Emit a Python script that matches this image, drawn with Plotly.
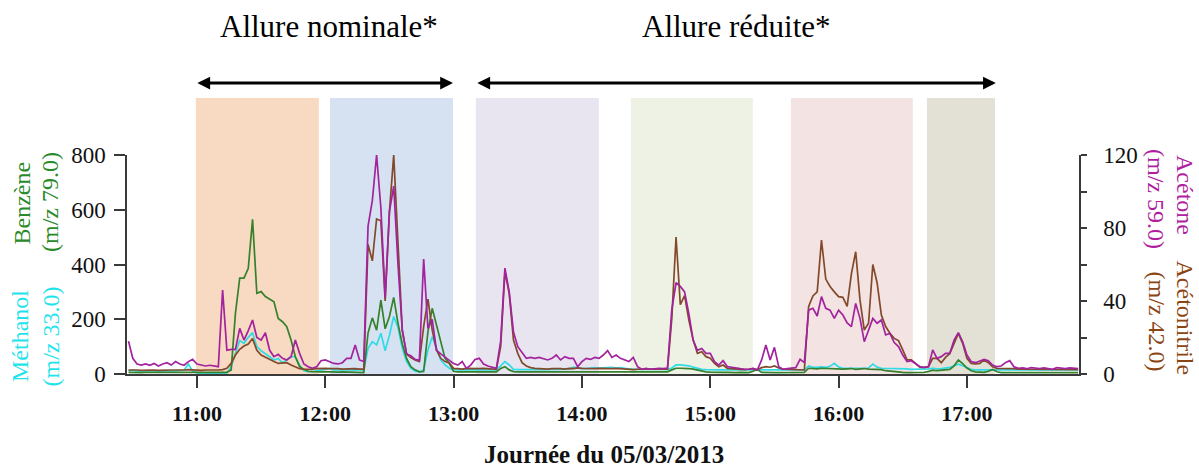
# Série temporelle COV (PTR-MS) du 05/03/2013, allure nominale / réduite.

import pandas as pd
import plotly.graph_objects as go

DAY = "2013-03-05"
START = f"{DAY} 10:28"
STEP = "2min"

# Acétone (m/z 59.0), axe de droite
acetone = [
    18, 8.6, 5.5, 4.9, 5.5, 4.8, 5.8, 4.4, 5.5, 6.2,
    4.9, 6.8, 5.5, 4.8, 6.8, 8.0, 5.5, 4.9, 4.4, 4.8,
    4.4, 4.0, 46, 13, 13.5, 13.5, 25, 18.6, 23.8, 29.6,
    20, 18.6, 22.6, 13, 9.5, 10.8, 8.6, 7.7, 9.5, 18.6,
    11.3, 5.5, 4.0, 3.1, 4.0, 7.3, 7.7, 6.8, 5.8, 5.5,
    6.2, 8.6, 8.6, 15.9, 7.7, 6.8, 81, 95, 120, 91,
    42, 89, 103, 60, 24, 11, 10, 8, 7.5, 63,
    25, 30, 13, 11, 9, 7.5, 5.8, 4.9, 6.8, 3.1,
    4.9, 8, 8.6, 5.5, 4.4, 3.7, 3.1, 18, 58, 45,
    23, 15, 11.7, 8.6, 9.1, 8.6, 9.1, 8.6, 7.7, 8.6,
    10.4, 7.7, 9.5, 8.6, 8.6, 4, 6.8, 8.6, 8, 9.1,
    8.6, 10.4, 12.8, 9.1, 10.4, 8.6, 7.7, 6.8, 9.1, 4,
    2.6, 3.1, 2.6, 2.9, 3.1, 2.9, 3.3, 35, 50, 48,
    45, 33, 18.6, 13, 14, 11.3, 11.3, 6.8, 4.9, 7.3,
    4, 3.7, 3.1, 2.9, 2.6, 2.6, 3.1, 2.2, 7.7, 15.9,
    7.7, 14.6, 4, 2.6, 2.9, 3.1, 3.5, 8, 6.2, 35,
    36, 31.8, 42.4, 36, 35, 30.5, 35, 32.3, 28, 26,
    38.7, 30.5, 17.7, 24, 30.5, 27.8, 29.6, 21.4, 22.3, 17.2,
    15, 10.4, 6.8, 7.3, 5.5, 4, 3.7, 4, 13.2, 8.6,
    9.5, 11.3, 11.3, 18.6, 22.7, 17.7, 10.4, 6.8, 6.2, 7.3,
    8, 7.3, 4.9, 4, 4.4, 6.2, 7.3, 4, 3.1, 3.3,
    2.9, 3.5, 3.1, 2.9, 3.3, 3.1, 2.6, 3.5, 3.1, 2.9,
    3.3, 3.1, 2.9,
]

# Acétonitrile (m/z 42.0), axe de droite
acetonitrile = [
    2.2, 2.4, 2.2, 2.0, 2.2, 2.4, 2.2, 2.0, 2.2, 2.4,
    2.2, 2.2, 2.0, 2.2, 2.4, 2.2, 2.2, 2.0, 2.2, 2.4,
    2.2, 2.2, 2.4, 3.1, 5.8, 10.4, 13.5, 15.3, 16.4, 19.4,
    13, 10.4, 9.1, 7.7, 6.8, 5.8, 6.2, 6.2, 4.9, 4.0,
    2.9, 2.6, 2.4, 2.6, 2.9, 3.1, 3.1, 2.9, 3.1, 2.9,
    2.7, 2.9, 3.1, 2.9, 2.7, 2.7, 71, 62, 85, 84,
    40, 89, 120, 75, 24, 11, 9, 7.7, 6.8, 26,
    41, 24, 13.2, 8.6, 6.8, 6, 3.1, 2.9, 2.7, 3.1,
    2.9, 2.7, 2.9, 3.1, 2.9, 2.7, 2.6, 15, 56, 44,
    18.6, 11.3, 6.2, 4.4, 3.5, 3.1, 2.9, 3.1, 2.7, 2.9,
    3.1, 2.9, 2.7, 3.1, 2.9, 3.3, 3.1, 2.9, 2.7, 2.9,
    3.1, 2.9, 2.7, 2.9, 3.1, 2.9, 2.7, 2.6, 2.4, 2.6,
    2.4, 2.6, 2.7, 2.6, 2.4, 2.6, 2.7, 30, 75, 38,
    43, 29.6, 18.6, 11.3, 12.2, 9.5, 8.6, 5.8, 4, 4.9,
    3.1, 2.9, 2.7, 2.6, 2.4, 2.6, 2.9, 2.4, 3.5, 4.0,
    3.7, 4.4, 3.3, 2.7, 2.6, 2.7, 2.6, 2.6, 2.2, 37,
    42.8, 45, 73.4, 52, 48, 45, 42.4, 42, 37, 55,
    67, 40.6, 24.1, 27.8, 60, 50, 32.3, 26, 22.3, 19.5,
    18.3, 13.2, 7.7, 7.7, 5.8, 3.7, 3.5, 4, 8.6, 8.6,
    6.2, 9.1, 11.3, 16.8, 22.3, 16.8, 8.6, 5.8, 5.5, 5.8,
    7.7, 6.2, 4, 3.1, 3.1, 3.1, 3.1, 2.9, 2.6, 2.6,
    2.4, 2.6, 2.4, 2.6, 2.4, 2.2, 2.4, 2.6, 2.4, 2.2,
    2.4, 2.6, 2.4,
]

# Benzène (m/z 79.0), axe de gauche
benzene = [
    6, 5, 6, 5, 6, 6, 5, 6, 5, 6,
    6, 5, 6, 5, 5, 6, 5, 5, 6, 5,
    5, 5, 6, 6, 15, 222, 350, 350, 386, 565,
    295, 301, 283, 273, 264, 203, 191, 173, 124, 63,
    27, 17, 10, 9, 8, 8, 9, 8, 8, 7,
    8, 7, 6, 5, 5, 5, 150, 205, 160, 270,
    165, 210, 280, 185, 110, 57, 27, 15, 8, 9,
    155, 240, 179, 112, 57, 39, 9, 8, 8, 9,
    8, 8, 9, 8, 8, 7, 8, 20, 27, 15,
    9, 8, 8, 8, 9, 8, 8, 8, 9, 8,
    8, 8, 8, 9, 8, 8, 8, 8, 9, 8,
    8, 8, 8, 8, 9, 8, 8, 7, 7, 8,
    7, 7, 8, 7, 7, 7, 8, 15, 21, 21,
    21, 20, 18, 14, 10, 8, 7, 6, 6, 6,
    6, 5, 5, 6, 5, 5, 10, 17, 6, 5,
    5, 5, 5, 5, 5, 5, 5, 5, 6, 21,
    20, 19, 21, 20, 20, 19, 17, 18, 19, 20,
    17, 18, 20, 18, 17, 18, 16, 12, 10, 9,
    7, 6, 5, 5, 5, 5, 6, 9, 14, 12,
    14, 15, 17, 30, 51, 38, 22, 12, 8, 7,
    6, 10, 17, 8, 5, 5, 5, 5, 5, 5,
    5, 5, 5, 5, 5, 5, 5, 5, 5, 5,
    5, 5, 5,
]

# Méthanol (m/z 33.0), axe de gauche
methanol = [
    12, 14, 10, 11, 10, 12, 11, 10, 12, 11,
    10, 11, 13, 14, 36, 10, 4, 3, 3, 3,
    3, 3, 3, 4, 27, 75, 122, 112, 134, 151,
    100, 85, 75, 63, 51, 57, 41, 51, 63, 63,
    33, 12, 8.5, 8.5, 11, 15, 18, 20, 15, 14,
    15, 16, 15, 14, 16, 13, 94, 118, 106, 149,
    85, 142, 210, 170, 94, 45, 21, 10, 8, 15,
    88, 136, 94, 51, 33, 21, 15, 15, 15, 14,
    14, 15, 15, 15, 14, 15, 15, 30, 45, 33,
    17, 16, 15, 16, 16, 17, 16, 16, 16, 17,
    16, 16, 17, 18, 25, 22, 20, 20, 22, 23,
    22, 23, 22, 24, 22, 23, 21, 18, 17, 17,
    16, 17, 17, 16, 17, 17, 16, 22, 33, 33,
    31, 30, 25, 20, 17, 16, 15, 15, 15, 15,
    15, 15, 15, 15, 15, 17, 16, 15, 15, 15,
    15, 15, 15, 15, 15, 15, 15, 15, 15, 29,
    24, 24, 26, 24, 28, 39, 26, 21, 21, 22,
    20, 22, 21, 22, 36, 25, 21, 21, 20, 21,
    21, 20, 19, 17, 17, 17, 17, 19, 21, 19,
    20, 22, 24, 30, 36, 30, 22, 17, 15, 15,
    15, 16, 15, 15, 15, 14, 15, 15, 15, 14,
    15, 15, 15, 15, 14, 15, 15, 15, 14, 15,
    15, 15, 15,
]

# Périodes de prélèvement (bandes colorées)
period_start = ["10:59:30", "12:02:12", "13:10:24", "14:22:54", "15:37:42", "16:41:18"]
period_end = ["11:57:00", "12:59:42", "14:07:54", "15:19:54", "16:34:42", "17:13:06"]
period_colors = ["#F8D9C2", "#D6E2F2", "#E8E5F1", "#EEF2E5", "#F3E3E3", "#E3E1D5"]

# Allures du four
phase_labels = ["Allure nominale*", "Allure réduite*"]
phase_start = ["10:59:30", "13:10:24"]
phase_end = ["12:59:42", "17:13:30"]

hour_ticks = ["11:00", "12:00", "13:00", "14:00", "15:00", "16:00", "17:00"]
left_ticks = [0, 200, 400, 600, 800]
right_ticks = [0, 20, 40, 60, 80, 100, 120]
right_ticktext = ["0", "", "40", "", "80", "", "120"]

COL_ACETONE = "#A3229E"
COL_ACETONITRILE = "#83492A"
COL_BENZENE = "#37802C"
COL_METHANOL = "#2FDCE6"
AXIS_COL = "#3a3a3a"
SERIF = "Liberation Serif"

W, H = 1199, 468
PL, PR, PT, PB = 127, 1079, 155, 374


def px_x(px):
    return (px - PL) / (PR - PL)


def px_y(py):
    return (PB - py) / (PB - PT)


def ts(hm):
    return f"{DAY} {hm}"


times = pd.date_range(START, periods=len(acetone), freq=STEP)

fig = go.Figure()

for name, vals, col, axis in [
    ("Méthanol", methanol, COL_METHANOL, "y"),
    ("Benzène", benzene, COL_BENZENE, "y"),
    ("Acétonitrile", acetonitrile, COL_ACETONITRILE, "y2"),
    ("Acétone", acetone, COL_ACETONE, "y2"),
]:
    fig.add_trace(go.Scatter(
        x=times, y=vals, mode="lines", name=name, yaxis=axis,
        line=dict(color=col, width=1.7),
    ))

for x0, x1, col in zip(period_start, period_end, period_colors):
    fig.add_vrect(x0=ts(x0), x1=ts(x1), y0=0, y1=px_y(98),
                  fillcolor=col, line_width=0, layer="below")

# flèches doubles + libellés des allures
label_px = [328.5, 736]
for lab, x0, x1, lx in zip(phase_labels, phase_start, phase_end, label_px):
    fig.add_annotation(
        x=ts(x1), y=px_y(83), xref="x", yref="paper",
        ax=ts(x0), ay=0, axref="x", ayref="pixel",
        text="", showarrow=True, arrowside="end+start",
        arrowhead=2, startarrowhead=2, arrowsize=0.85, startarrowsize=0.85,
        arrowwidth=3, arrowcolor="black",
    )
    fig.add_annotation(
        x=px_x(lx), y=px_y(26.5), xref="paper", yref="paper",
        text=lab, showarrow=False, xanchor="center", yanchor="middle",
        font=dict(family=SERIF, size=31, color="black"),
    )

# titres d'axes (deux lignes, pivotés)
axis_titles = [
    ("Benzène", 21, 203.5, -90, "#2A8A2A"),
    ("(m/z 79.0)", 50, 202, -90, "#2A8A2A"),
    ("Méthanol", 20, 336, -90, "#1FE3EC"),
    ("(m/z 33.0)", 50, 336.5, -90, "#1FE3EC"),
    ("Acétone", 1185, 195, 90, "#B01E9E"),
    ("(m/z 59.0)", 1156, 199, 90, "#B01E9E"),
    ("Acétonitrile", 1185, 317.5, 90, "#8B4513"),
    ("(m/z 42.0)", 1157, 321.5, 90, "#8B4513"),
]
for txt, x, y, ang, col in axis_titles:
    fig.add_annotation(
        x=px_x(x), y=px_y(y), xref="paper", yref="paper",
        text=txt, textangle=ang, showarrow=False,
        xanchor="center", yanchor="middle",
        font=dict(family=SERIF, size=24, color=col),
    )

fig.add_annotation(
    x=px_x(604), y=px_y(454), xref="paper", yref="paper",
    text="Journée du 05/03/2013", showarrow=False,
    xanchor="center", yanchor="middle",
    font=dict(family=SERIF, size=25, color="#111", weight="bold"),
)

fig.update_layout(
    width=W, height=H,
    margin=dict(l=PL, r=W - PR, t=PT, b=H - PB),
    paper_bgcolor="white", plot_bgcolor="white",
    showlegend=False,
    xaxis=dict(
        type="date",
        range=[ts("10:27:18"), ts("17:52:24")],
        tickvals=[ts(h) for h in hour_ticks], ticktext=hour_ticks,
        ticks="outside", ticklen=12, tickwidth=1.5, tickcolor=AXIS_COL,
        showline=True, linecolor=AXIS_COL, linewidth=1.5,
        showgrid=False, zeroline=False, ticklabelstandoff=7,
        tickfont=dict(family=SERIF, size=22, color="#111", weight="bold"),
    ),
    yaxis=dict(
        range=[0, 800], tickvals=left_ticks,
        ticks="outside", ticklen=11, tickwidth=1.5, tickcolor=AXIS_COL,
        showline=True, linecolor=AXIS_COL, linewidth=1.5,
        showgrid=False, zeroline=False, ticklabelstandoff=4,
        tickfont=dict(family=SERIF, size=23, color="#111"),
    ),
    yaxis2=dict(
        overlaying="y", side="right",
        range=[0, 120], tickvals=right_ticks, ticktext=right_ticktext,
        ticks="outside", ticklen=6, tickwidth=1.5, tickcolor=AXIS_COL,
        showline=True, linecolor=AXIS_COL, linewidth=1.5,
        showgrid=False, zeroline=False, ticklabelstandoff=12,
        tickfont=dict(family=SERIF, size=23, color="#111"),
    ),
)

# la page est photographiée à 1199x468 : pas de marge autour du graphique
fig.write_html(
    "out.html",
    config={"displayModeBar": False},
    post_script="document.body.style.margin='0';",
)
